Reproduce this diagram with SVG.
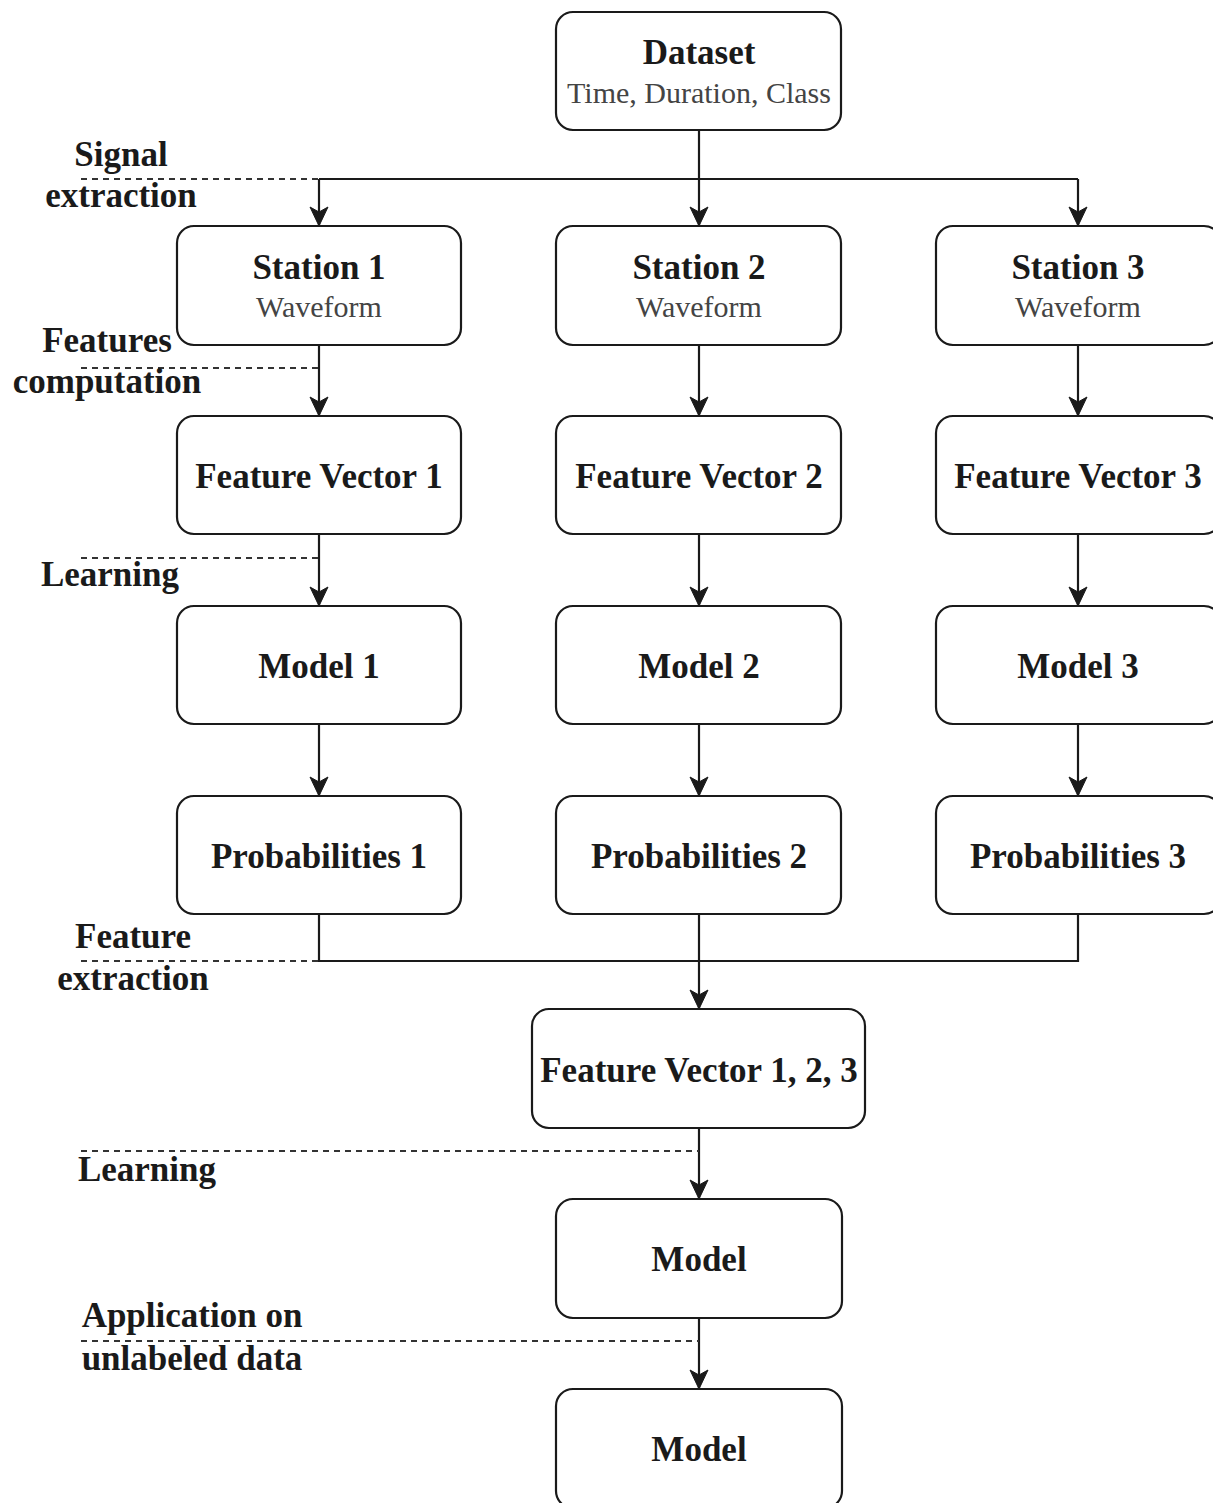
<svg xmlns="http://www.w3.org/2000/svg" width="1213" height="1503" viewBox="0 0 1213 1503">
  <style>
    .box { fill: #ffffff; stroke: #1a1a1a; stroke-width: 2.2; }
    .t { font-family: "Liberation Serif", "Times New Roman", serif; font-weight: bold; font-size: 35px; fill: #1a1a1a; text-anchor: middle; }
    .s { font-family: "Liberation Serif", "Times New Roman", serif; font-size: 30px; fill: #444444; text-anchor: middle; }
    .edge { fill: none; stroke: #1a1a1a; stroke-width: 2.2; }
    .dash { fill: none; stroke: #333333; stroke-width: 1.8; stroke-dasharray: 6 5; }
  </style>
  <defs>
    <marker id="arrow" markerUnits="userSpaceOnUse" markerWidth="22" markerHeight="22" refX="20" refY="11" orient="auto">
      <path d="M20,11 L1,2 L6,11 L1,20 Z" fill="#1a1a1a" stroke="#1a1a1a" stroke-width="1"/>
    </marker>
  </defs>
  <rect width="1213" height="1503" fill="#ffffff"/>

  <g id="connectors">
    <path class="edge" d="M699,130 V179"/>
    <path class="edge" d="M319,179 H1078"/>
    <path class="edge" d="M319,179 V226" marker-end="url(#arrow)"/>
    <path class="edge" d="M699,179 V226" marker-end="url(#arrow)"/>
    <path class="edge" d="M1078,179 V226" marker-end="url(#arrow)"/>
    <path class="edge" d="M319,345 V416" marker-end="url(#arrow)"/>
    <path class="edge" d="M699,345 V416" marker-end="url(#arrow)"/>
    <path class="edge" d="M1078,345 V416" marker-end="url(#arrow)"/>
    <path class="edge" d="M319,534 V606" marker-end="url(#arrow)"/>
    <path class="edge" d="M699,534 V606" marker-end="url(#arrow)"/>
    <path class="edge" d="M1078,534 V606" marker-end="url(#arrow)"/>
    <path class="edge" d="M319,724 V796" marker-end="url(#arrow)"/>
    <path class="edge" d="M699,724 V796" marker-end="url(#arrow)"/>
    <path class="edge" d="M1078,724 V796" marker-end="url(#arrow)"/>
    <path class="edge" d="M319,914 V961 H1078 V914"/>
    <path class="edge" d="M699,914 V1009" marker-end="url(#arrow)"/>
    <path class="edge" d="M699,1128 V1199" marker-end="url(#arrow)"/>
    <path class="edge" d="M699,1318 V1389" marker-end="url(#arrow)"/>

    <path class="dash" d="M81,179 H319"/>
    <path class="dash" d="M81,368 H319"/>
    <path class="dash" d="M81,558 H319"/>
    <path class="dash" d="M81,961 H319"/>
    <path class="dash" d="M81,1151 H699"/>
    <path class="dash" d="M81,1341 H699"/>
  </g>

  <g id="stage-labels">
    <text class="t" x="121" y="166">Signal</text>
    <text class="t" x="121" y="207">extraction</text>
    <text class="t" x="107" y="352">Features</text>
    <text class="t" x="107" y="393">computation</text>
    <text class="t" x="110" y="586">Learning</text>
    <text class="t" x="133" y="948">Feature</text>
    <text class="t" x="133" y="990">extraction</text>
    <text class="t" x="147" y="1181">Learning</text>
    <text class="t" x="192" y="1327">Application on</text>
    <text class="t" x="192" y="1370">unlabeled data</text>
  </g>

  <g id="dataset">
    <rect class="box" x="556" y="12" width="285" height="118" rx="17"/>
    <text class="t" x="699" y="64">Dataset</text>
    <text class="s" x="699" y="103">Time, Duration, Class</text>
  </g>

  <g id="station1">
    <rect class="box" x="177" y="226" width="284" height="119" rx="17"/>
    <text class="t" x="319" y="279">Station 1</text>
    <text class="s" x="319" y="317">Waveform</text>
  </g>
  <g id="station2">
    <rect class="box" x="556" y="226" width="285" height="119" rx="17"/>
    <text class="t" x="699" y="279">Station 2</text>
    <text class="s" x="699" y="317">Waveform</text>
  </g>
  <g id="station3">
    <rect class="box" x="936" y="226" width="285" height="119" rx="17"/>
    <text class="t" x="1078" y="279">Station 3</text>
    <text class="s" x="1078" y="317">Waveform</text>
  </g>

  <g id="fv1">
    <rect class="box" x="177" y="416" width="284" height="118" rx="17"/>
    <text class="t" x="319" y="488">Feature Vector 1</text>
  </g>
  <g id="fv2">
    <rect class="box" x="556" y="416" width="285" height="118" rx="17"/>
    <text class="t" x="699" y="488">Feature Vector 2</text>
  </g>
  <g id="fv3">
    <rect class="box" x="936" y="416" width="285" height="118" rx="17"/>
    <text class="t" x="1078" y="488">Feature Vector 3</text>
  </g>

  <g id="model1">
    <rect class="box" x="177" y="606" width="284" height="118" rx="17"/>
    <text class="t" x="319" y="678">Model 1</text>
  </g>
  <g id="model2">
    <rect class="box" x="556" y="606" width="285" height="118" rx="17"/>
    <text class="t" x="699" y="678">Model 2</text>
  </g>
  <g id="model3">
    <rect class="box" x="936" y="606" width="285" height="118" rx="17"/>
    <text class="t" x="1078" y="678">Model 3</text>
  </g>

  <g id="prob1">
    <rect class="box" x="177" y="796" width="284" height="118" rx="17"/>
    <text class="t" x="319" y="868">Probabilities 1</text>
  </g>
  <g id="prob2">
    <rect class="box" x="556" y="796" width="285" height="118" rx="17"/>
    <text class="t" x="699" y="868">Probabilities 2</text>
  </g>
  <g id="prob3">
    <rect class="box" x="936" y="796" width="285" height="118" rx="17"/>
    <text class="t" x="1078" y="868">Probabilities 3</text>
  </g>

  <g id="fv-all">
    <rect class="box" x="532" y="1009" width="333" height="119" rx="17"/>
    <text class="t" x="699" y="1082">Feature Vector 1, 2, 3</text>
  </g>

  <g id="model">
    <rect class="box" x="556" y="1199" width="286" height="119" rx="17"/>
    <text class="t" x="699" y="1271">Model</text>
  </g>

  <g id="model-final">
    <rect class="box" x="556" y="1389" width="286" height="119" rx="17"/>
    <text class="t" x="699" y="1461">Model</text>
  </g>
</svg>
